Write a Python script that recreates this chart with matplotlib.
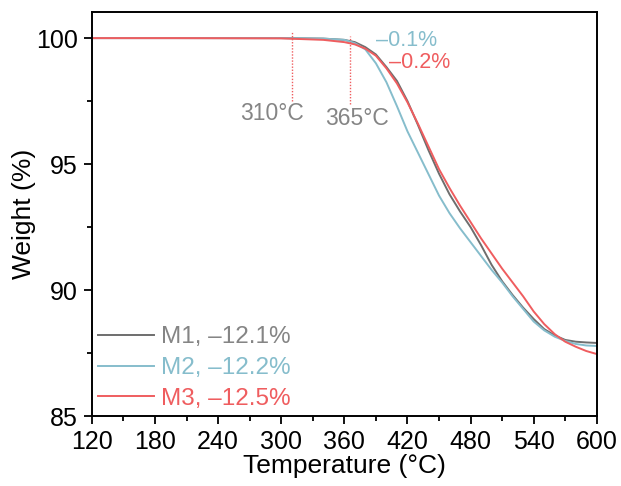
import numpy as np
import matplotlib
matplotlib.use('Agg')
import matplotlib.pyplot as plt
from matplotlib.ticker import MultipleLocator

plt.rcParams['font.family'] = ['Liberation Sans', 'DejaVu Sans']

# temperature grid (°C) and weight (%)
temp = [120, 200, 300, 340, 360, 370, 380, 390, 400, 410, 420, 430, 440, 450, 460, 470,
        480, 490, 500, 510, 520, 530, 540, 550, 560, 570, 580, 590, 600]
m1 = [100.0, 100.0, 100.0, 99.98, 99.93, 99.84, 99.64, 99.35, 98.85, 98.3, 97.5, 96.55, 95.55,
      94.62, 93.8, 93.12, 92.5, 91.78, 91.0, 90.35, 89.8, 89.3, 88.85, 88.45, 88.2, 88.02,
      87.95, 87.92, 87.9]
m2 = [100.0, 100.0, 100.0, 99.98, 99.93, 99.8, 99.55, 99.0, 98.25, 97.3, 96.3, 95.45, 94.6,
      93.75, 93.05, 92.45, 91.9, 91.35, 90.8, 90.3, 89.75, 89.25, 88.75, 88.4, 88.15, 87.98,
      87.86, 87.8, 87.78]
m3 = [100.0, 100.0, 99.99, 99.93, 99.84, 99.75, 99.58, 99.3, 98.8, 98.2, 97.45, 96.6, 95.7,
      94.8, 94.05, 93.35, 92.7, 92.05, 91.45, 90.85, 90.3, 89.75, 89.15, 88.65, 88.25, 87.95,
      87.75, 87.58, 87.46]
labels = ['M1, –12.1%', 'M2, –12.2%', 'M3, –12.5%']
onset = [310, 365]
onset_labels = ['310°C', '365°C']

gray = '#6e6e6e'
gray_txt = '#858585'
blue = '#86bdcc'
red = '#ef5d5f'

fig = plt.figure(figsize=(6.21, 4.86), dpi=100)
ax = fig.add_axes([0.148, 0.144, 0.813, 0.831])

l1, = ax.plot(temp, m1, color=gray, lw=1.4)
l2, = ax.plot(temp, m2, color=blue, lw=1.4)
l3, = ax.plot(temp, m3, color=red, lw=1.4)

# onset markers
ax.plot([onset[0], onset[0]], [97.5, 100.3], color=red, lw=1, ls=(0, (1, 1.2)))
ax.plot([onset[1], onset[1]], [97.4, 100.1], color=red, lw=1, ls=(0, (1, 1.2)))
ax.text(291, 97.0, onset_labels[0], color=gray_txt, fontsize=16.5, ha='center', va='center')
ax.text(372, 96.8, onset_labels[1], color=gray_txt, fontsize=16.5, ha='center', va='center')
ax.text(390, 99.9, '–0.1%', color=blue, fontsize=15.5, ha='left', va='center')
ax.text(402.5, 99.05, '–0.2%', color=red, fontsize=15.5, ha='left', va='center')

ax.set_xlim(120, 600)
ax.set_ylim(85, 101.03)
ax.xaxis.set_major_locator(MultipleLocator(60))
ax.xaxis.set_minor_locator(MultipleLocator(30))
ax.yaxis.set_major_locator(MultipleLocator(5))
ax.yaxis.set_minor_locator(MultipleLocator(2.5))
ax.tick_params(which='both', direction='out', top=False, right=False, width=1.3, labelsize=18)
ax.tick_params(which='major', length=6, pad=4)
ax.tick_params(which='minor', length=3.5)
for s in ax.spines.values():
    s.set_linewidth(1.4)

ax.set_xlabel('Temperature (°C)', fontsize=19, labelpad=0)
ax.set_ylabel('Weight (%)', fontsize=19, labelpad=0)

leg = ax.legend([l1, l2, l3], labels, loc='lower left', bbox_to_anchor=(0.0, 0.0),
                frameon=False, fontsize=17.5, handlelength=2.3, handletextpad=0.3,
                labelspacing=0.36, borderaxespad=0.1, borderpad=0.15)
for t, c in zip(leg.get_texts(), [gray_txt, blue, red]):
    t.set_color(c)

fig.savefig('out.png', dpi=100)
